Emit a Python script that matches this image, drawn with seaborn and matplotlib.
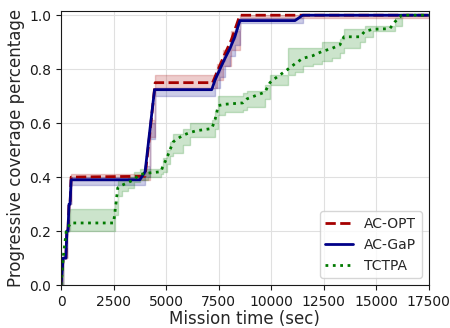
import numpy as np
import pandas as pd
import matplotlib
matplotlib.use("Agg")
import matplotlib.pyplot as plt
import seaborn as sns

# Progressive coverage over mission time: mean curve with lower/upper envelope per method
opt_time = [0, 100, 230, 280, 330, 380, 430, 480, 4000, 4250, 4480, 7210, 7400, 7700, 8100, 8510, 17500]
opt_mean = [0.0, 0.10, 0.10, 0.20, 0.20, 0.30, 0.30, 0.40, 0.403, 0.58, 0.75, 0.75, 0.785, 0.84, 0.908, 1.0, 1.0]
opt_lo = [0.0, 0.10, 0.10, 0.20, 0.20, 0.30, 0.30, 0.39, 0.39, 0.55, 0.73, 0.73, 0.76, 0.81, 0.87, 0.99, 1.0]
opt_hi = [0.0, 0.10, 0.10, 0.20, 0.20, 0.30, 0.30, 0.41, 0.42, 0.61, 0.78, 0.78, 0.82, 0.87, 0.94, 1.0, 1.0]

gap_time = [0, 100, 230, 280, 330, 380, 430, 480, 3750, 4000, 4220, 4450, 7170, 7330, 7560, 7800,
            8040, 8270, 8510, 11130, 11500, 17500]
gap_mean = [0.0, 0.10, 0.10, 0.20, 0.20, 0.30, 0.30, 0.39, 0.39, 0.42, 0.57, 0.724, 0.724, 0.76,
            0.80, 0.84, 0.877, 0.92, 0.98, 0.98, 1.0, 1.0]
gap_lo = [0.0, 0.10, 0.10, 0.20, 0.20, 0.30, 0.30, 0.37, 0.37, 0.40, 0.54, 0.70, 0.70, 0.73,
          0.77, 0.81, 0.85, 0.89, 0.97, 0.97, 1.0, 1.0]
gap_hi = [0.0, 0.10, 0.10, 0.20, 0.20, 0.30, 0.30, 0.40, 0.40, 0.44, 0.60, 0.73, 0.73, 0.79,
          0.83, 0.87, 0.91, 0.95, 0.99, 0.99, 1.0, 1.0]

tct_time = [0, 100, 250, 450, 2500, 2580, 2700, 2900, 3200, 3450, 3750, 4150, 4750, 4850, 5030,
            5180, 5330, 5500, 5800, 6130, 6450, 7170, 7320, 7480, 7800, 8650, 8850, 9700, 9940,
            10080, 10800, 11130, 11500, 11980, 12400, 12890, 13270, 13460, 14220, 14450, 14840,
            15640, 15880, 16210, 17500]
tct_mean = [0.0, 0.10, 0.20, 0.23, 0.23, 0.28, 0.36, 0.37, 0.38, 0.39, 0.41, 0.415, 0.42, 0.44,
            0.47, 0.50, 0.53, 0.54, 0.555, 0.565, 0.572, 0.58, 0.61, 0.665, 0.67, 0.675, 0.69,
            0.715, 0.75, 0.76, 0.80, 0.82, 0.84, 0.85, 0.865, 0.877, 0.89, 0.92, 0.92, 0.94,
            0.948, 0.95, 0.975, 1.0, 1.0]
tct_lo = [0.0, 0.10, 0.20, 0.20, 0.20, 0.26, 0.33, 0.35, 0.36, 0.38, 0.39, 0.40, 0.41, 0.42,
          0.45, 0.48, 0.49, 0.49, 0.52, 0.55, 0.55, 0.55, 0.58, 0.63, 0.64, 0.65, 0.66, 0.69,
          0.74, 0.74, 0.78, 0.79, 0.81, 0.82, 0.83, 0.84, 0.86, 0.88, 0.90, 0.92, 0.94, 0.94,
          0.96, 1.0, 1.0]
tct_hi = [0.0, 0.10, 0.20, 0.28, 0.28, 0.31, 0.39, 0.39, 0.40, 0.42, 0.43, 0.43, 0.44, 0.47,
          0.50, 0.53, 0.56, 0.56, 0.58, 0.60, 0.60, 0.61, 0.64, 0.70, 0.70, 0.71, 0.72, 0.74,
          0.78, 0.78, 0.88, 0.88, 0.88, 0.88, 0.90, 0.90, 0.91, 0.95, 0.95, 0.96, 0.96, 0.96,
          0.99, 1.0, 1.0]

methods = ["AC-OPT", "AC-GaP", "TCTPA"]
series = {
    "AC-OPT": (opt_time, opt_lo, opt_mean, opt_hi),
    "AC-GaP": (gap_time, gap_lo, gap_mean, gap_hi),
    "TCTPA": (tct_time, tct_lo, tct_mean, tct_hi),
}

# Long table: three samples per time step (envelope low, central, envelope high)
rows = []
for name in methods:
    t, lo, mid, hi = series[name]
    for ti, a, b, c in zip(t, lo, mid, hi):
        for v in (a, b, c):
            rows.append({"time": ti, "coverage": v, "method": name})
df = pd.DataFrame(rows)

sns.set_style("whitegrid", {
    "axes.edgecolor": "0.1",
    "axes.linewidth": 1.0,
    "grid.color": "0.88",
    "xtick.bottom": True,
    "ytick.left": True,
    "xtick.color": "0.1",
    "ytick.color": "0.1",
})
plt.rcParams["font.family"] = ["DejaVu Sans"]
plt.rcParams["xtick.major.size"] = 3.5
plt.rcParams["ytick.major.size"] = 3.5

palette = {"AC-OPT": "#a50000", "AC-GaP": "#000088", "TCTPA": "#007a00"}
dashes = {"AC-OPT": (3.7, 1.6), "AC-GaP": "", "TCTPA": (1, 1.65)}

fig, ax = plt.subplots(figsize=(4.5, 3.28), dpi=100)
fig.subplots_adjust(left=0.1356, right=0.953, bottom=0.131, top=0.966)

sns.lineplot(data=df, x="time", y="coverage", hue="method", style="method",
             hue_order=methods, style_order=methods, palette=palette, dashes=dashes,
             estimator="median", errorbar=("pi", 100),
             err_kws={"step": "post", "alpha": 0.2, "linewidth": 1.0},
             linewidth=2.0, ax=ax)

ax.set_xlim(0, 17500)
ax.set_ylim(0, 1.015)
ax.set_xticks(np.arange(0, 17501, 2500))
ax.set_yticks(np.arange(0, 1.01, 0.2))
ax.tick_params(labelsize=10)
ax.set_xlabel("Mission time (sec)", fontsize=12, labelpad=1)
ax.set_ylabel("Progressive coverage percentage", fontsize=12, labelpad=3)

sns.move_legend(ax, "lower right", title=None, frameon=True, fontsize=10)

fig.savefig("out.png", dpi=100)
